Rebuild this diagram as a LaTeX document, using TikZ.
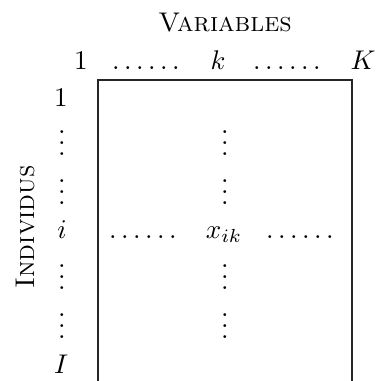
\documentclass[tikz,border=0pt]{standalone}
% three stacked dots without the extra top kern of \vdots
\newcommand{\stackdots}{\vbox{\baselineskip4pt\lineskiplimit0pt\hbox{.}\hbox{.}\hbox{.}}}
\begin{document}
\begin{tikzpicture}[x=0.37pt,y=-0.37pt,
  lbl/.style={inner sep=0pt,anchor=base},
  frame/.style={line width=0.75pt,draw=black!85}]
\useasboundingbox (0,0) rectangle (376,381);
% heading
\node[inner sep=0pt] (title) at (225,23) {\textsc{Variables}};
% column indices
\node[lbl] (c1) at (81,70) {$1$};
\node[lbl] (cd1) at (146,70) {$\ldots\ldots$};
\node[lbl] (ck) at (218,70) {$k$};
\node[lbl] (cd2) at (287,70) {$\ldots\ldots$};
\node[lbl] (cK) at (363,70) {$K$};
% row indices
\node[lbl] (r1) at (61,107) {$1$};
\node[lbl] (rv1) at (62,155) {\stackdots};
\node[lbl] (rv2) at (62,204) {\stackdots};
\node[lbl] (ri) at (62,238) {$i$};
\node[lbl] (rv3) at (62,289) {\stackdots};
\node[lbl] (rv4) at (62,338) {\stackdots};
\node[lbl] (rI) at (61,373) {$I$};
\node[inner sep=0pt,rotate=90] (side) at (25,227) {\textsc{Individus}};
% matrix interior
\node[lbl] (mv1) at (225,155) {\stackdots};
\node[lbl] (mv2) at (225,204) {\stackdots};
\node[lbl] (hd1) at (143,238) {$\ldots\ldots$};
\node[lbl] (x) at (224,238) {$x_{ik}$};
\node[lbl] (hd2) at (300,238) {$\ldots\ldots$};
\node[lbl] (mv3) at (225,289) {\stackdots};
\node[lbl] (mv4) at (225,338) {\stackdots};
% matrix border, open at the bottom
\coordinate (bl) at (98,385);
\coordinate (tl) at (98,80);
\coordinate (tr) at (352,80);
\coordinate (br) at (352,385);
\draw[frame] (bl) -- (tl) -- (tr) -- (br);
\end{tikzpicture}
\end{document}
